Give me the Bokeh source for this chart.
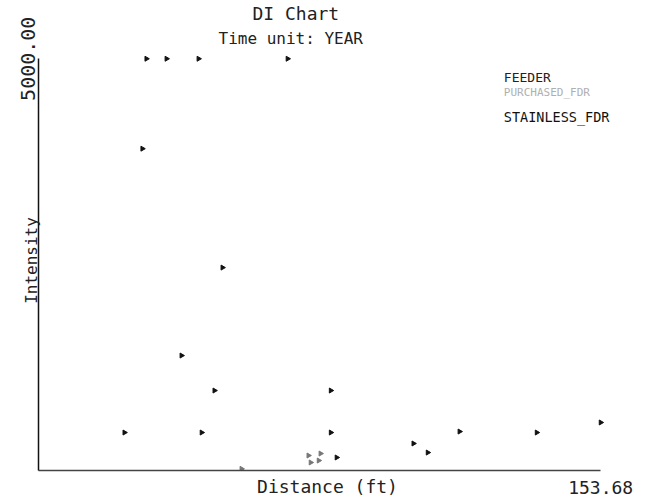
import math
from bokeh.plotting import figure
from bokeh.models import Range1d, FixedTicker, Label, ColumnDataSource, Title
from bokeh.embed import file_html
from bokeh.resources import INLINE

# ---- data ----
X_MAX = 153.68
Y_MAX = 5000.0

feeder_x = [29.5, 35.0, 43.75, 68.1, 28.4, 50.3, 39.1, 48.1, 79.9,
            23.5, 44.6, 79.9, 115.1, 136.2, 153.68, 102.5, 106.4, 81.5]
feeder_y = [5000, 5000, 5000, 5000, 3908, 2464, 1396, 971, 971,
            461, 461, 461, 473, 461, 583, 328, 218, 158]

purchased_x = [73.8, 74.4, 76.6, 77.1, 55.5]
purchased_y = [182, 97, 121, 206, 20]

legend_names = ["FEEDER", "PURCHASED_FDR", "STAINLESS_FDR"]
x_tick_labels = {X_MAX: "153.68"}
y_tick_labels = {Y_MAX: "5000.00"}

MONO = "DejaVu Sans Mono"

p = figure(width=668, height=502, output_backend="svg", toolbar_location=None,
           title=None,
           x_range=Range1d(0, 158), y_range=Range1d(0, 5100),
           min_border_left=38, min_border_right=52, min_border_top=50,
           min_border_bottom=32)
p.outline_line_color = None
p.xgrid.visible = False
p.ygrid.visible = False
p.background_fill_color = "white"

# titles (subtitle first: it sits next to the frame)
p.add_layout(Title(text="Time unit: YEAR", align="left", offset=180,
                   text_font=MONO, text_font_size="16px", text_font_style="normal",
                   text_color="#222", standoff=5), "above")
p.add_layout(Title(text="DI Chart", align="left", offset=214,
                   text_font=MONO, text_font_size="18px", text_font_style="normal",
                   text_color="#222", standoff=1), "above")

# axes
p.xaxis.bounds = (0, X_MAX)
p.xaxis.ticker = FixedTicker(ticks=[X_MAX])
p.xaxis.major_label_overrides = x_tick_labels
p.xaxis.major_tick_out = 0
p.xaxis.major_tick_in = 0
p.xaxis.minor_tick_out = 0
p.xaxis.minor_tick_in = 0
p.xaxis.major_label_standoff = 10
p.xaxis.major_label_text_font = MONO
p.xaxis.major_label_text_font_size = "18px"
p.xaxis.major_label_text_color = "#222"
p.xaxis.axis_line_color = "#444"
p.xaxis.axis_line_width = 1.5
p.xaxis.axis_label = "Distance (ft)"
p.xaxis.axis_label_text_font = MONO
p.xaxis.axis_label_text_font_size = "18px"
p.xaxis.axis_label_text_font_style = "normal"
p.xaxis.axis_label_text_color = "#222"
p.xaxis.axis_label_standoff = -21

p.yaxis.bounds = (0, Y_MAX)
p.yaxis.ticker = FixedTicker(ticks=[Y_MAX])
p.yaxis.major_label_overrides = y_tick_labels
p.yaxis.major_label_orientation = "vertical"
p.yaxis.major_tick_out = 0
p.yaxis.major_tick_in = 0
p.yaxis.minor_tick_out = 0
p.yaxis.minor_tick_in = 0
p.yaxis.major_label_standoff = 3
p.yaxis.major_label_text_font = MONO
p.yaxis.major_label_text_font_size = "20px"
p.yaxis.major_label_text_color = "#222"
p.yaxis.axis_line_color = "#111"
p.yaxis.axis_line_width = 1.5
p.yaxis.axis_label = "Intensity"
p.yaxis.axis_label_text_font = MONO
p.yaxis.axis_label_text_font_size = "16px"
p.yaxis.axis_label_text_font_style = "normal"
p.yaxis.axis_label_text_color = "#222"
p.yaxis.axis_label_standoff = -22

# points
src_a = ColumnDataSource(dict(x=feeder_x, y=feeder_y))
src_b = ColumnDataSource(dict(x=purchased_x, y=purchased_y))
p.scatter("x", "y", source=src_a, marker="triangle", angle=-math.pi / 2,
          size=5, fill_color="#111", line_color="#111")
p.scatter("x", "y", source=src_b, marker="triangle", angle=-math.pi / 2,
          size=5, fill_color="#777", line_color="#777")

# legend texts (inside the frame)
def lab(text, x, y, size, color="#222"):
    p.add_layout(Label(x=x, y=y, text=text, text_font=MONO, text_font_size=size,
                       text_color=color, text_align="left",
                       text_baseline="alphabetic"))

lab(legend_names[0], 127.2, 4769, "13px", color="#222")
lab(legend_names[1], 127.2, 4587, "11px", color="#b0b0b0")
lab(legend_names[2], 127.2, 4296, "13.5px", color="#111")

open("out.html", "w").write(file_html(p, INLINE))
